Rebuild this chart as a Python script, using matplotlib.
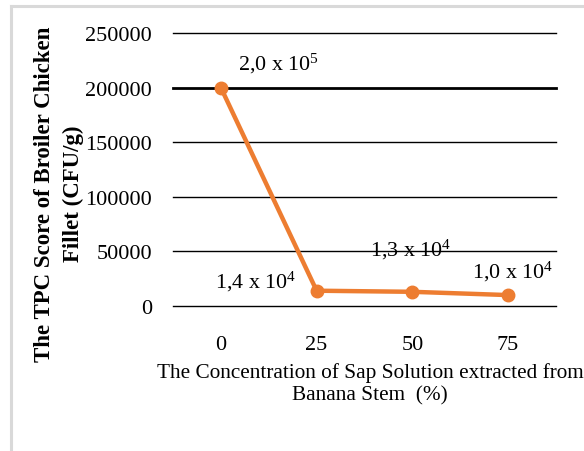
import matplotlib
matplotlib.use("Agg")
import matplotlib.pyplot as plt
from matplotlib.lines import Line2D

plt.rcParams['font.family'] = ['Liberation Serif', 'DejaVu Serif']
plt.rcParams['mathtext.fontset'] = 'custom'
plt.rcParams['mathtext.rm'] = 'Liberation Serif'
plt.rcParams['mathtext.it'] = 'Liberation Serif'

# Data
concentrations = ["0", "25", "50", "75"]
tpc_values = [200000, 14000, 13000, 10000]
value_labels = ["2,0 x 10$^{5}$", "1,4 x 10$^{4}$", "1,3 x 10$^{4}$", "1,0 x 10$^{4}$"]
y_ticks = [0, 50000, 100000, 150000, 200000, 250000]

W, H = 584, 452
fig = plt.figure(figsize=(W / 100, H / 100), dpi=100)
ax = fig.add_axes([173 / W, 1 - 307 / H, 383 / W, 273 / H])

x = list(range(len(concentrations)))

# horizontal gridlines
for t in y_ticks:
    ax.axhline(t, color='black', lw=2.0 if t == 200000 else 1.0, zorder=1,
               clip_on=False)

ax.plot(x, tpc_values, color='#ED7D31', lw=3.2, marker='o', markersize=9,
        solid_capstyle='round', zorder=3, clip_on=False)

ax.set_xlim(-0.5, len(concentrations) - 0.5)
ax.set_ylim(0, 250000)
ax.set_yticks(y_ticks)
ax.set_yticklabels([str(t) for t in y_ticks])
ax.set_xticks(x)
ax.set_xticklabels(concentrations)
ax.tick_params(axis='both', length=0, labelsize=16)
ax.tick_params(axis='y', pad=15)
ax.tick_params(axis='x', pad=21)
for s in ax.spines.values():
    s.set_visible(False)

# value labels next to each point
offsets = [(17, 25, 'left'), (-21, 10, 'right'), (-2, 43, 'center'), (4, 24, 'center')]
for xi, yi, lab, (dx, dy, ha) in zip(x, tpc_values, value_labels, offsets):
    ax.annotate(lab, xy=(xi, yi), xytext=(dx, dy), textcoords='offset pixels',
                ha=ha, va='center', fontsize=15.8, color='black', zorder=4)

# axis titles
fig.text(370 / W, 1 - 384 / H,
         "The Concentration of Sap Solution extracted from\nBanana Stem  (%)",
         ha='center', va='center', fontsize=15.3, linespacing=1.25)
fig.text(59 / W, 1 - 194 / H,
         "The TPC Score of Broiler Chicken\nFillet (CFU/g)",
         ha='center', va='center', rotation=90, fontsize=16.5,
         fontweight='bold', linespacing=1.5)

# light frame around the chart
frame = dict(color='#D9D9D9', lw=2.2, transform=fig.transFigure)
fig.add_artist(Line2D([10.5 / W, 10.5 / W], [0, 1 - 7 / H], **frame))
fig.add_artist(Line2D([10.5 / W, 1], [1 - 7 / H, 1 - 7 / H], **frame))

fig.savefig("out.png", dpi=100)
